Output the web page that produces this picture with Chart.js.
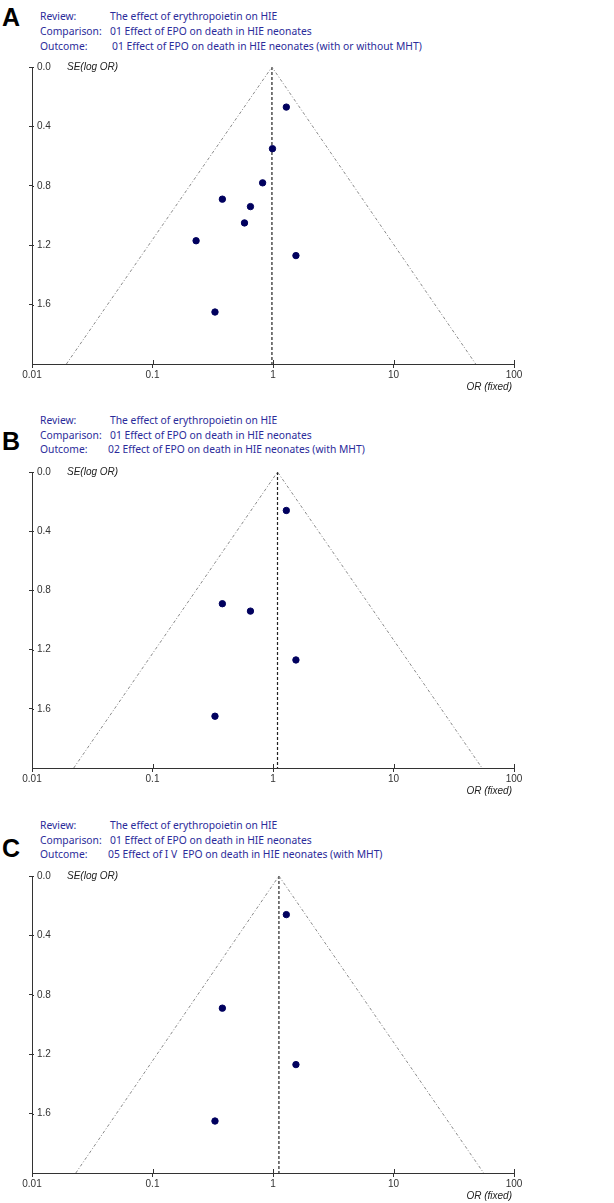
<!DOCTYPE html>
<html>
<head>
<meta charset="utf-8">
<script src="https://cdn.jsdelivr.net/npm/chart.js@4"></script>
<style>
  body { margin: 0; background: #fff; width: 614px; height: 1203px; position: relative; overflow: hidden; }
  .letter { position: absolute; left: 2px; font: bold 25px "Liberation Sans", Arial, sans-serif; color: #000; line-height: 26px; }
  .hdr { position: absolute; font: 10.3px "Noto Sans", "Open Sans", sans-serif; color: #2b2b9a; line-height: 15px; white-space: nowrap; }
  canvas { position: absolute; left: 0; }
</style>
</head>
<body>
<div class="letter" style="top:4px">A</div>
<div class="hdr" style="left:40px;top:9px">Review:</div>
<div class="hdr" style="left:110px;top:9px">The effect of erythropoietin on HIE</div>
<div class="hdr" style="left:40px;top:24px">Comparison:</div>
<div class="hdr" style="left:110px;top:24px">01 Effect of EPO on death in HIE neonates</div>
<div class="hdr" style="left:40px;top:39px">Outcome:</div>
<div class="hdr" style="left:112px;top:39px">01 Effect of EPO on death in HIE neonates (with or without MHT)</div>
<canvas id="chartA" width="614" height="345" style="top:50px"></canvas>

<div class="letter" style="top:428px">B</div>
<div class="hdr" style="left:40px;top:413px">Review:</div>
<div class="hdr" style="left:110px;top:413px">The effect of erythropoietin on HIE</div>
<div class="hdr" style="left:40px;top:428px">Comparison:</div>
<div class="hdr" style="left:110px;top:428px">01 Effect of EPO on death in HIE neonates</div>
<div class="hdr" style="left:40px;top:442px">Outcome:</div>
<div class="hdr" style="left:108px;top:442px">02 Effect of EPO on death in HIE neonates (with MHT)</div>
<canvas id="chartB" width="614" height="345" style="top:455px"></canvas>

<div class="letter" style="top:835px">C</div>
<div class="hdr" style="left:40px;top:818px">Review:</div>
<div class="hdr" style="left:110px;top:818px">The effect of erythropoietin on HIE</div>
<div class="hdr" style="left:40px;top:833px">Comparison:</div>
<div class="hdr" style="left:110px;top:833px">01 Effect of EPO on death in HIE neonates</div>
<div class="hdr" style="left:40px;top:847px">Outcome:</div>
<div class="hdr" style="left:108px;top:847px">05 Effect of I V&nbsp; EPO on death in HIE neonates (with MHT)</div>
<canvas id="chartC" width="614" height="343" style="top:860px"></canvas>

<script>
// tick values
const orTicks = [0.01, 0.1, 1, 10, 100];
const seTicks = [0, 0.4, 0.8, 1.2, 1.6];

// panel A: odds ratio and SE(log OR) of each study
const orA = [1.29, 0.99, 0.82, 0.38, 0.65, 0.58, 0.23, 1.55, 0.33];
const seA = [0.27, 0.55, 0.78, 0.89, 0.94, 1.05, 1.17, 1.27, 1.65];
// panel B
const orB = [1.29, 0.38, 0.65, 1.55, 0.33];
const seB = [0.26, 0.89, 0.94, 1.27, 1.65];
// panel C
const orC = [1.29, 0.38, 1.55, 0.33];
const seC = [0.26, 0.89, 1.27, 1.65];

// pooled OR (fixed) and funnel ends at SE = 2.0, for A, B, C
const pooledOR = [0.98, 1.09, 1.12];
const funnelLow = [0.0193, 0.0222, 0.0231];
const funnelHigh = [48.1, 54.3, 56];
const seMax = 2.0;

const axisColor = '#333';
const tickFont = { family: '"Liberation Sans", Arial, sans-serif', size: 10 };

// ticks crossing the axes + axis titles
const extras = {
  id: 'extras',
  afterDraw(chart) {
    const ctx = chart.ctx;
    const a = chart.chartArea;
    const xs = chart.scales.x, ys = chart.scales.y;
    ctx.save();
    ctx.strokeStyle = axisColor;
    ctx.lineWidth = 1;
    ctx.beginPath();
    xs.ticks.forEach(function (t) {
      const px = Math.round(xs.getPixelForValue(t.value)) + 0.5;
      ctx.moveTo(px, a.bottom);
      ctx.lineTo(px, a.bottom - 4);
    });
    ys.ticks.forEach(function (t) {
      const py = Math.round(ys.getPixelForValue(t.value)) + 0.5;
      ctx.moveTo(a.left, py);
      ctx.lineTo(a.left + 2, py);
    });
    ctx.stroke();
    ctx.fillStyle = '#222';
    ctx.font = 'italic 10px "Liberation Sans", Arial, sans-serif';
    ctx.textBaseline = 'middle';
    ctx.textAlign = 'left';
    ctx.fillText('SE(log OR)', a.left + 35, a.top);
    ctx.textAlign = 'right';
    ctx.fillText('OR (fixed)', a.right - 2, a.bottom + 23);
    ctx.restore();
  }
};

function buildPanel(id, ors, ses, k, pad) {
  const studies = ors.map(function (v, i) { return { x: v, y: ses[i] }; });
  new Chart(document.getElementById(id), {
    type: 'scatter',
    data: {
      datasets: [
        {
          data: studies,
          backgroundColor: '#00005e',
          borderColor: '#00005e',
          pointRadius: 3.2,
          pointHoverRadius: 3.2
        },
        {
          data: [{ x: funnelLow[k], y: seMax }, { x: pooledOR[k], y: 0 }, { x: funnelHigh[k], y: seMax }],
          showLine: true,
          pointRadius: 0,
          borderColor: '#8a8a8a',
          borderWidth: 1,
          borderDash: [3, 2, 1, 2]
        },
        {
          data: [{ x: pooledOR[k], y: 0 }, { x: pooledOR[k], y: seMax }],
          showLine: true,
          pointRadius: 0,
          borderColor: '#222',
          borderWidth: 1.2,
          borderDash: [3, 2]
        }
      ]
    },
    options: {
      responsive: false,
      animation: false,
      layout: { padding: pad },
      plugins: { legend: { display: false }, tooltip: { enabled: false } },
      scales: {
        x: {
          type: 'logarithmic',
          min: 0.01,
          max: 100,
          afterBuildTicks: function (scale) { scale.ticks = orTicks.map(function (v) { return { value: v }; }); },
          afterFit: function (scale) { scale.height = 20; },
          ticks: {
            color: axisColor,
            font: tickFont,
            padding: 1,
            maxRotation: 0,
            autoSkip: false,
            callback: function (v) { return String(v); }
          },
          grid: { drawOnChartArea: false, tickLength: 4, color: axisColor },
          border: { color: axisColor, width: 1 }
        },
        y: {
          type: 'linear',
          reverse: true,
          min: 0,
          max: seMax,
          afterBuildTicks: function (scale) { scale.ticks = seTicks.map(function (v) { return { value: v }; }); },
          afterFit: function (scale) { scale.width = 3; },
          ticks: {
            color: axisColor,
            font: tickFont,
            mirror: true,
            padding: 5,
            callback: function (v) { return Number(v).toFixed(1); }
          },
          grid: { drawOnChartArea: false, tickLength: 3, color: axisColor },
          border: { color: axisColor, width: 1 }
        }
      }
    },
    plugins: [extras]
  });
}

buildPanel('chartA', orA, seA, 0, { left: 29, right: 100, top: 17, bottom: 11 });
buildPanel('chartB', orB, seB, 1, { left: 29, right: 100, top: 17, bottom: 12 });
buildPanel('chartC', orC, seC, 2, { left: 29, right: 100, top: 16, bottom: 10 });
</script>
</body>
</html>
